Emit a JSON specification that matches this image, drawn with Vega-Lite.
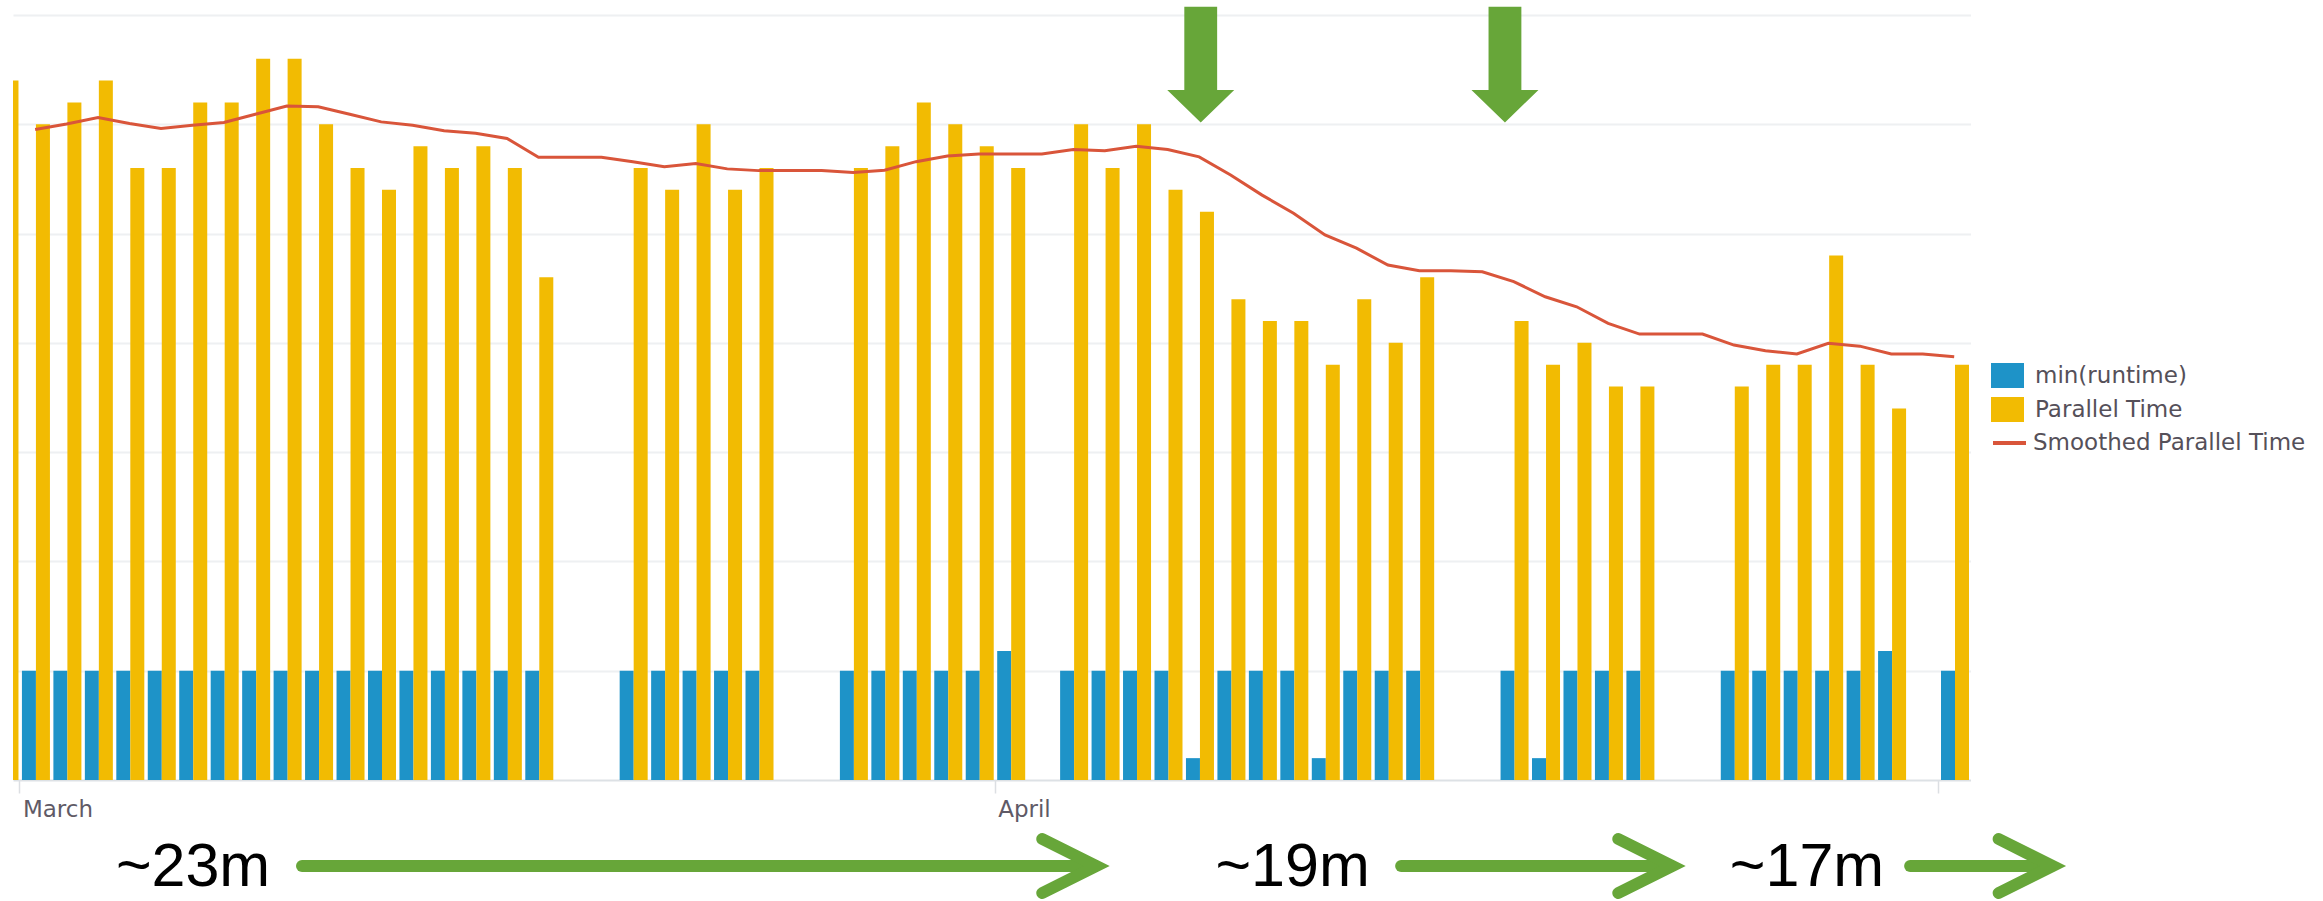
{
  "$schema": "https://vega.github.io/schema/vega-lite/v6.json",
  "width": 1957.5,
  "height": 765,
  "autosize": {"type": "none"},
  "padding": {"left": 13, "top": 15, "right": 352.5, "bottom": 121},
  "config": {"view": {"stroke": null}, "font": "DejaVu Sans"},
  "data": {
    "format": {"parse": {"date": "date:'%Y-%m-%d'"}},
    "values": [
      {"date": "2017-02-28", "series": "min(runtime)", "value": 5}, {"date": "2017-02-28", "series": "Parallel Time", "value": 32},
      {"date": "2017-03-01", "series": "min(runtime)", "value": 5}, {"date": "2017-03-01", "series": "Parallel Time", "value": 30},
      {"date": "2017-03-02", "series": "min(runtime)", "value": 5}, {"date": "2017-03-02", "series": "Parallel Time", "value": 31},
      {"date": "2017-03-03", "series": "min(runtime)", "value": 5}, {"date": "2017-03-03", "series": "Parallel Time", "value": 32},
      {"date": "2017-03-04", "series": "min(runtime)", "value": 5}, {"date": "2017-03-04", "series": "Parallel Time", "value": 28},
      {"date": "2017-03-05", "series": "min(runtime)", "value": 5}, {"date": "2017-03-05", "series": "Parallel Time", "value": 28},
      {"date": "2017-03-06", "series": "min(runtime)", "value": 5}, {"date": "2017-03-06", "series": "Parallel Time", "value": 31},
      {"date": "2017-03-07", "series": "min(runtime)", "value": 5}, {"date": "2017-03-07", "series": "Parallel Time", "value": 31},
      {"date": "2017-03-08", "series": "min(runtime)", "value": 5}, {"date": "2017-03-08", "series": "Parallel Time", "value": 33},
      {"date": "2017-03-09", "series": "min(runtime)", "value": 5}, {"date": "2017-03-09", "series": "Parallel Time", "value": 33},
      {"date": "2017-03-10", "series": "min(runtime)", "value": 5}, {"date": "2017-03-10", "series": "Parallel Time", "value": 30},
      {"date": "2017-03-11", "series": "min(runtime)", "value": 5}, {"date": "2017-03-11", "series": "Parallel Time", "value": 28},
      {"date": "2017-03-12", "series": "min(runtime)", "value": 5}, {"date": "2017-03-12", "series": "Parallel Time", "value": 27},
      {"date": "2017-03-13", "series": "min(runtime)", "value": 5}, {"date": "2017-03-13", "series": "Parallel Time", "value": 29},
      {"date": "2017-03-14", "series": "min(runtime)", "value": 5}, {"date": "2017-03-14", "series": "Parallel Time", "value": 28},
      {"date": "2017-03-15", "series": "min(runtime)", "value": 5}, {"date": "2017-03-15", "series": "Parallel Time", "value": 29},
      {"date": "2017-03-16", "series": "min(runtime)", "value": 5}, {"date": "2017-03-16", "series": "Parallel Time", "value": 28},
      {"date": "2017-03-17", "series": "min(runtime)", "value": 5}, {"date": "2017-03-17", "series": "Parallel Time", "value": 23},
      {"date": "2017-03-20", "series": "min(runtime)", "value": 5}, {"date": "2017-03-20", "series": "Parallel Time", "value": 28},
      {"date": "2017-03-21", "series": "min(runtime)", "value": 5}, {"date": "2017-03-21", "series": "Parallel Time", "value": 27},
      {"date": "2017-03-22", "series": "min(runtime)", "value": 5}, {"date": "2017-03-22", "series": "Parallel Time", "value": 30},
      {"date": "2017-03-23", "series": "min(runtime)", "value": 5}, {"date": "2017-03-23", "series": "Parallel Time", "value": 27},
      {"date": "2017-03-24", "series": "min(runtime)", "value": 5}, {"date": "2017-03-24", "series": "Parallel Time", "value": 28},
      {"date": "2017-03-27", "series": "min(runtime)", "value": 5}, {"date": "2017-03-27", "series": "Parallel Time", "value": 28},
      {"date": "2017-03-28", "series": "min(runtime)", "value": 5}, {"date": "2017-03-28", "series": "Parallel Time", "value": 29},
      {"date": "2017-03-29", "series": "min(runtime)", "value": 5}, {"date": "2017-03-29", "series": "Parallel Time", "value": 31},
      {"date": "2017-03-30", "series": "min(runtime)", "value": 5}, {"date": "2017-03-30", "series": "Parallel Time", "value": 30},
      {"date": "2017-03-31", "series": "min(runtime)", "value": 5}, {"date": "2017-03-31", "series": "Parallel Time", "value": 29},
      {"date": "2017-04-01", "series": "min(runtime)", "value": 5.9}, {"date": "2017-04-01", "series": "Parallel Time", "value": 28},
      {"date": "2017-04-03", "series": "min(runtime)", "value": 5}, {"date": "2017-04-03", "series": "Parallel Time", "value": 30},
      {"date": "2017-04-04", "series": "min(runtime)", "value": 5}, {"date": "2017-04-04", "series": "Parallel Time", "value": 28},
      {"date": "2017-04-05", "series": "min(runtime)", "value": 5}, {"date": "2017-04-05", "series": "Parallel Time", "value": 30},
      {"date": "2017-04-06", "series": "min(runtime)", "value": 5}, {"date": "2017-04-06", "series": "Parallel Time", "value": 27},
      {"date": "2017-04-07", "series": "min(runtime)", "value": 1}, {"date": "2017-04-07", "series": "Parallel Time", "value": 26},
      {"date": "2017-04-08", "series": "min(runtime)", "value": 5}, {"date": "2017-04-08", "series": "Parallel Time", "value": 22},
      {"date": "2017-04-09", "series": "min(runtime)", "value": 5}, {"date": "2017-04-09", "series": "Parallel Time", "value": 21},
      {"date": "2017-04-10", "series": "min(runtime)", "value": 5}, {"date": "2017-04-10", "series": "Parallel Time", "value": 21},
      {"date": "2017-04-11", "series": "min(runtime)", "value": 1}, {"date": "2017-04-11", "series": "Parallel Time", "value": 19},
      {"date": "2017-04-12", "series": "min(runtime)", "value": 5}, {"date": "2017-04-12", "series": "Parallel Time", "value": 22},
      {"date": "2017-04-13", "series": "min(runtime)", "value": 5}, {"date": "2017-04-13", "series": "Parallel Time", "value": 20},
      {"date": "2017-04-14", "series": "min(runtime)", "value": 5}, {"date": "2017-04-14", "series": "Parallel Time", "value": 23},
      {"date": "2017-04-17", "series": "min(runtime)", "value": 5}, {"date": "2017-04-17", "series": "Parallel Time", "value": 21},
      {"date": "2017-04-18", "series": "min(runtime)", "value": 1}, {"date": "2017-04-18", "series": "Parallel Time", "value": 19},
      {"date": "2017-04-19", "series": "min(runtime)", "value": 5}, {"date": "2017-04-19", "series": "Parallel Time", "value": 20},
      {"date": "2017-04-20", "series": "min(runtime)", "value": 5}, {"date": "2017-04-20", "series": "Parallel Time", "value": 18},
      {"date": "2017-04-21", "series": "min(runtime)", "value": 5}, {"date": "2017-04-21", "series": "Parallel Time", "value": 18},
      {"date": "2017-04-24", "series": "min(runtime)", "value": 5}, {"date": "2017-04-24", "series": "Parallel Time", "value": 18},
      {"date": "2017-04-25", "series": "min(runtime)", "value": 5}, {"date": "2017-04-25", "series": "Parallel Time", "value": 19},
      {"date": "2017-04-26", "series": "min(runtime)", "value": 5}, {"date": "2017-04-26", "series": "Parallel Time", "value": 19},
      {"date": "2017-04-27", "series": "min(runtime)", "value": 5}, {"date": "2017-04-27", "series": "Parallel Time", "value": 24},
      {"date": "2017-04-28", "series": "min(runtime)", "value": 5}, {"date": "2017-04-28", "series": "Parallel Time", "value": 19},
      {"date": "2017-04-29", "series": "min(runtime)", "value": 5.9}, {"date": "2017-04-29", "series": "Parallel Time", "value": 17},
      {"date": "2017-05-01", "series": "min(runtime)", "value": 5}, {"date": "2017-05-01", "series": "Parallel Time", "value": 19},
      {"date": "2017-03-01", "series": "Smoothed Parallel Time", "value": 29.76},
      {"date": "2017-03-02", "series": "Smoothed Parallel Time", "value": 30.01},
      {"date": "2017-03-03", "series": "Smoothed Parallel Time", "value": 30.31},
      {"date": "2017-03-04", "series": "Smoothed Parallel Time", "value": 30.04},
      {"date": "2017-03-05", "series": "Smoothed Parallel Time", "value": 29.81},
      {"date": "2017-03-06", "series": "Smoothed Parallel Time", "value": 29.96},
      {"date": "2017-03-07", "series": "Smoothed Parallel Time", "value": 30.08},
      {"date": "2017-03-08", "series": "Smoothed Parallel Time", "value": 30.46},
      {"date": "2017-03-09", "series": "Smoothed Parallel Time", "value": 30.84},
      {"date": "2017-03-10", "series": "Smoothed Parallel Time", "value": 30.8},
      {"date": "2017-03-11", "series": "Smoothed Parallel Time", "value": 30.46},
      {"date": "2017-03-12", "series": "Smoothed Parallel Time", "value": 30.11},
      {"date": "2017-03-13", "series": "Smoothed Parallel Time", "value": 29.96},
      {"date": "2017-03-14", "series": "Smoothed Parallel Time", "value": 29.7},
      {"date": "2017-03-15", "series": "Smoothed Parallel Time", "value": 29.59},
      {"date": "2017-03-16", "series": "Smoothed Parallel Time", "value": 29.35},
      {"date": "2017-03-17", "series": "Smoothed Parallel Time", "value": 28.49},
      {"date": "2017-03-18", "series": "Smoothed Parallel Time", "value": 28.49},
      {"date": "2017-03-19", "series": "Smoothed Parallel Time", "value": 28.49},
      {"date": "2017-03-20", "series": "Smoothed Parallel Time", "value": 28.29},
      {"date": "2017-03-21", "series": "Smoothed Parallel Time", "value": 28.06},
      {"date": "2017-03-22", "series": "Smoothed Parallel Time", "value": 28.21},
      {"date": "2017-03-23", "series": "Smoothed Parallel Time", "value": 27.96},
      {"date": "2017-03-24", "series": "Smoothed Parallel Time", "value": 27.88},
      {"date": "2017-03-25", "series": "Smoothed Parallel Time", "value": 27.88},
      {"date": "2017-03-26", "series": "Smoothed Parallel Time", "value": 27.88},
      {"date": "2017-03-27", "series": "Smoothed Parallel Time", "value": 27.79},
      {"date": "2017-03-28", "series": "Smoothed Parallel Time", "value": 27.9},
      {"date": "2017-03-29", "series": "Smoothed Parallel Time", "value": 28.29},
      {"date": "2017-03-30", "series": "Smoothed Parallel Time", "value": 28.55},
      {"date": "2017-03-31", "series": "Smoothed Parallel Time", "value": 28.64},
      {"date": "2017-04-01", "series": "Smoothed Parallel Time", "value": 28.64},
      {"date": "2017-04-02", "series": "Smoothed Parallel Time", "value": 28.64},
      {"date": "2017-04-03", "series": "Smoothed Parallel Time", "value": 28.85},
      {"date": "2017-04-04", "series": "Smoothed Parallel Time", "value": 28.79},
      {"date": "2017-04-05", "series": "Smoothed Parallel Time", "value": 29.0},
      {"date": "2017-04-06", "series": "Smoothed Parallel Time", "value": 28.85},
      {"date": "2017-04-07", "series": "Smoothed Parallel Time", "value": 28.51},
      {"date": "2017-04-08", "series": "Smoothed Parallel Time", "value": 27.68},
      {"date": "2017-04-09", "series": "Smoothed Parallel Time", "value": 26.76},
      {"date": "2017-04-10", "series": "Smoothed Parallel Time", "value": 25.93},
      {"date": "2017-04-11", "series": "Smoothed Parallel Time", "value": 24.94},
      {"date": "2017-04-12", "series": "Smoothed Parallel Time", "value": 24.33},
      {"date": "2017-04-13", "series": "Smoothed Parallel Time", "value": 23.56},
      {"date": "2017-04-14", "series": "Smoothed Parallel Time", "value": 23.3},
      {"date": "2017-04-15", "series": "Smoothed Parallel Time", "value": 23.3},
      {"date": "2017-04-16", "series": "Smoothed Parallel Time", "value": 23.25},
      {"date": "2017-04-17", "series": "Smoothed Parallel Time", "value": 22.8},
      {"date": "2017-04-18", "series": "Smoothed Parallel Time", "value": 22.11},
      {"date": "2017-04-19", "series": "Smoothed Parallel Time", "value": 21.65},
      {"date": "2017-04-20", "series": "Smoothed Parallel Time", "value": 20.89},
      {"date": "2017-04-21", "series": "Smoothed Parallel Time", "value": 20.4},
      {"date": "2017-04-22", "series": "Smoothed Parallel Time", "value": 20.4},
      {"date": "2017-04-23", "series": "Smoothed Parallel Time", "value": 20.4},
      {"date": "2017-04-24", "series": "Smoothed Parallel Time", "value": 19.9},
      {"date": "2017-04-25", "series": "Smoothed Parallel Time", "value": 19.64},
      {"date": "2017-04-26", "series": "Smoothed Parallel Time", "value": 19.49},
      {"date": "2017-04-27", "series": "Smoothed Parallel Time", "value": 19.98},
      {"date": "2017-04-28", "series": "Smoothed Parallel Time", "value": 19.85},
      {"date": "2017-04-29", "series": "Smoothed Parallel Time", "value": 19.49},
      {"date": "2017-04-30", "series": "Smoothed Parallel Time", "value": 19.49},
      {"date": "2017-05-01", "series": "Smoothed Parallel Time", "value": 19.36}
    ]
  },
  "layer": [
    {
      "transform": [{"filter": "datum.series === 'min(runtime)'"}],
      "mark": {"type": "bar", "width": 14, "xOffset": -6.2, "clip": true},
      "encoding": {
        "x": {
          "field": "date", "type": "temporal", "timeUnit": "yearmonthdate", "bandPosition": 0.5,
          "scale": {"domain": [{"year": 2017, "month": 2, "date": 28, "hours": 19, "minutes": 7}, {"year": 2017, "month": 5, "date": 2, "hours": 0, "minutes": 26}], "nice": false},
          "axis": {
            "title": null, "grid": false,
            "values": [{"year": 2017, "month": 3, "date": 1}, {"year": 2017, "month": 4, "date": 1}, {"year": 2017, "month": 5, "date": 1}],
            "labelExpr": "month(datum.value) == 4 ? '' : timeFormat(datum.value, '%B')",
            "labelAlign": "left", "labelBaseline": "top", "labelOffset": 3, "labelPadding": 5,
            "labelFont": "DejaVu Sans", "labelFontSize": 23, "labelColor": "#5f5a66", "labelFlush": false, "labelOverlap": false,
            "tickSize": 13, "tickColor": "#dcdfe3", "tickWidth": 1.5,
            "domainColor": "#dde1e5", "domainWidth": 2
          }
        },
        "y": {
          "field": "value", "type": "quantitative",
          "scale": {"domain": [0, 35], "nice": false},
          "axis": {"title": null, "labels": false, "ticks": false, "domain": false, "grid": true, "gridColor": "#eef0f2", "gridWidth": 2, "values": [5, 10, 15, 20, 25, 30, 35]}
        },
        "fill": {
          "field": "series", "type": "nominal",
          "scale": {"domain": ["min(runtime)", "Parallel Time"], "range": ["#1e93c8", "#f2bb02"]},
          "legend": {
            "orient": "none", "legendX": 1978, "legendY": 344, "title": null, "padding": 0, "rowPadding": 4,
            "symbolType": "M-1,-0.76L1,-0.76L1,0.76L-1,0.76Z", "symbolSize": 1089, "symbolStrokeWidth": 0, "symbolOpacity": 1,
            "labelFont": "DejaVu Sans", "labelFontSize": 23, "labelColor": "#555059", "labelOffset": 11, "labelLimit": 400
          }
        }
      }
    },
    {
      "transform": [{"filter": "datum.series === 'Parallel Time'"}],
      "mark": {"type": "bar", "width": 14, "xOffset": 7.8, "clip": true},
      "encoding": {
        "x": {"field": "date", "type": "temporal", "timeUnit": "yearmonthdate", "bandPosition": 0.5},
        "y": {"field": "value", "type": "quantitative"},
        "fill": {"field": "series", "type": "nominal"}
      }
    },
    {
      "transform": [{"filter": "datum.series === 'Smoothed Parallel Time'"}],
      "mark": {"type": "line", "strokeWidth": 3, "clip": true},
      "encoding": {
        "x": {"field": "date", "type": "temporal", "timeUnit": "yearmonthdate", "bandPosition": 0.5},
        "y": {"field": "value", "type": "quantitative"},
        "stroke": {
          "field": "series", "type": "nominal",
          "scale": {"domain": ["Smoothed Parallel Time"], "range": ["#d9553a"]},
          "legend": {
            "orient": "none", "legendX": 1978, "legendY": 409.5, "title": null, "padding": 0,
            "symbolType": "stroke", "symbolSize": 1089, "symbolStrokeWidth": 4, "symbolOpacity": 1,
            "labelFont": "DejaVu Sans", "labelFontSize": 23, "labelColor": "#555059", "labelOffset": 5, "labelLimit": 400
          }
        }
      }
    },
    {
      "data": {
        "format": {"parse": {"t": "date:'%Y-%m-%dT%H:%M'"}},
        "values": [
          {"t": "2017-04-07T13:12", "v": 32.73},
          {"t": "2017-04-17T05:17", "v": 32.73}
        ]
      },
      "mark": {"type": "point", "shape": "M-0.49,-1.73L0.49,-1.73L0.49,0.755L1,0.755L0,1.73L-1,0.755L-0.49,0.755Z", "size": 4489, "filled": true, "fill": "#67a639", "opacity": 1, "strokeWidth": 0},
      "encoding": {
        "x": {"field": "t", "type": "temporal"},
        "y": {"field": "v", "type": "quantitative"}
      }
    },
    {
      "data": {
        "format": {"parse": {"t": "date:'%Y-%m-%dT%H:%M'", "t2": "date:'%Y-%m-%dT%H:%M'"}},
        "values": [
          {"t": "2017-03-09T23:36", "t2": "2017-04-04T00:43", "v": -3.935},
          {"t": "2017-04-13T22:05", "t2": "2017-04-22T08:10", "v": -3.935},
          {"t": "2017-04-30T02:22", "t2": "2017-05-04T10:04", "v": -3.935}
        ]
      },
      "mark": {"type": "rule", "strokeWidth": 12, "strokeCap": "round", "color": "#67a639"},
      "encoding": {
        "x": {"field": "t", "type": "temporal"},
        "x2": {"field": "t2"},
        "y": {"field": "v", "type": "quantitative"}
      }
    },
    {
      "data": {
        "format": {"parse": {"t": "date:'%Y-%m-%dT%H:%M'"}},
        "values": [
          {"t": "2017-04-04T05:31", "v": -3.935},
          {"t": "2017-04-22T12:57", "v": -3.935},
          {"t": "2017-05-04T15:07", "v": -3.935}
        ]
      },
      "mark": {"type": "point", "shape": "M-2,-1L0,0L-2,1", "size": 2916, "filled": false, "stroke": "#67a639", "strokeWidth": 12, "strokeCap": "round", "strokeJoin": "miter", "opacity": 1},
      "encoding": {
        "x": {"field": "t", "type": "temporal"},
        "y": {"field": "v", "type": "quantitative"}
      }
    },
    {
      "data": {
        "format": {"parse": {"t": "date:'%Y-%m-%dT%H:%M'"}},
        "values": [
          {"t": "2017-03-06T12:27", "v": -4.85, "label": "~23m"},
          {"t": "2017-04-10T11:16", "v": -4.85, "label": "~19m"},
          {"t": "2017-04-26T19:41", "v": -4.85, "label": "~17m"}
        ]
      },
      "mark": {"type": "text", "font": "Liberation Sans", "fontSize": 61, "align": "center", "baseline": "alphabetic", "color": "#000000"},
      "encoding": {
        "x": {"field": "t", "type": "temporal"},
        "y": {"field": "v", "type": "quantitative"},
        "text": {"field": "label"}
      }
    }
  ]
}
